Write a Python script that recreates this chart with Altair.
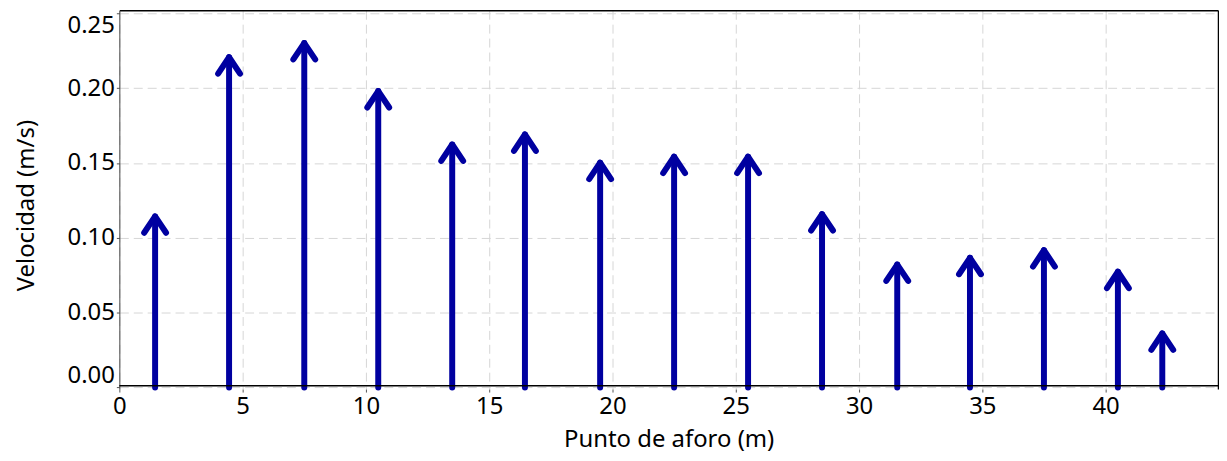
import altair as alt
import pandas as pd

# ---- data ----
x_pos = [1.45, 4.45, 7.5, 10.5, 13.5, 16.45, 19.5, 22.5, 25.5, 28.5, 31.55, 34.5, 37.5, 40.5, 42.3]
velocity = [0.1143, 0.2206, 0.2301, 0.1980, 0.1623, 0.1690, 0.1502, 0.1542,
            0.1542, 0.1158, 0.0821, 0.0866, 0.0917, 0.0773, 0.0361]
x_ticks = [0, 5, 10, 15, 20, 25, 30, 35, 40]
y_ticks = [0.00, 0.05, 0.10, 0.15, 0.20, 0.25]
X_DOMAIN = [0, 44.56]
Y_DOMAIN = [-0.0011, 0.2520]
BASELINE = [0.0012]

BLUE = "#0000a0"
FONT = "Noto Sans"

df = pd.DataFrame({"x": x_pos, "v": velocity})
df["v0"] = 0.0
base_df = pd.DataFrame({"b": BASELINE})

xscale = alt.Scale(domain=X_DOMAIN, nice=False, zero=False)
yscale = alt.Scale(domain=Y_DOMAIN, nice=False, zero=False)

x_axis = alt.Axis(
    values=x_ticks, format="d", grid=True, gridDash=[9, 5], gridColor="#d6d6d6",
    gridWidth=1, domain=False, tickSize=3, tickColor="#555555",
    labelFont=FONT, labelFontSize=24, labelColor="black", labelPadding=3,
    labelFlush=False,
    title="Punto de aforo (m)", titleFont=FONT, titleFontSize=24,
    titleFontWeight="normal", titleColor="black", titlePadding=9,
)
y_axis = alt.Axis(
    values=y_ticks, format=".2f", grid=True, gridDash=[9, 5], gridColor="#d6d6d6",
    gridWidth=1, domain=True, domainColor="#444444", domainWidth=1,
    tickSize=3, tickColor="#555555",
    labelFont=FONT, labelFontSize=24, labelColor="black", labelPadding=2,
    labelFlush=8, labelFlushOffset=0,
    title="Velocidad (m/s)", titleFont=FONT, titleFontSize=24,
    titleFontWeight="normal", titleColor="black",
    titleAngle=270, titleAlign="center", titleBaseline="middle",
    titleX=-93, titleY=196,
)

frame = alt.Chart(df).mark_point(opacity=0).encode(
    x=alt.X("x:Q", scale=xscale, axis=alt.Axis(
        orient="top", labels=False, ticks=False, grid=False, title=None,
        domainColor="black", domainWidth=1.5)),
    y=alt.Y("v:Q", scale=yscale, axis=alt.Axis(
        orient="right", labels=False, ticks=False, grid=False, title=None,
        domainColor="black", domainWidth=1.5)),
)

shafts = alt.Chart(df).mark_rule(color=BLUE, strokeWidth=6, strokeCap="round").encode(
    x=alt.X("x:Q", scale=xscale, axis=x_axis),
    y=alt.Y("v0:Q", scale=yscale, axis=y_axis),
    y2="v:Q",
)

heads = alt.Chart(df).mark_point(
    shape="M -0.667 1 L 0 0 L 0.667 1", filled=False, size=1089,
    strokeWidth=6, strokeCap="round", strokeJoin="round",
    color=BLUE, opacity=1,
).encode(
    x=alt.X("x:Q", scale=xscale, axis=None),
    y=alt.Y("v:Q", scale=yscale, axis=None),
)

zero_line = alt.Chart(base_df).mark_rule(color="black", strokeWidth=1.5).encode(
    y=alt.Y("b:Q", scale=yscale, axis=None),
)

chart = alt.layer(frame, shafts, zero_line, heads).resolve_axis(
    x="independent", y="independent"
).properties(
    width=1105, height=381,
    autosize=alt.AutoSizeParams(type="none"),
    padding={"left": 112, "top": 1, "right": 1, "bottom": 62},
).configure_view(stroke=None)

chart.save("out.html", embed_options={"renderer": "svg", "actions": False})
